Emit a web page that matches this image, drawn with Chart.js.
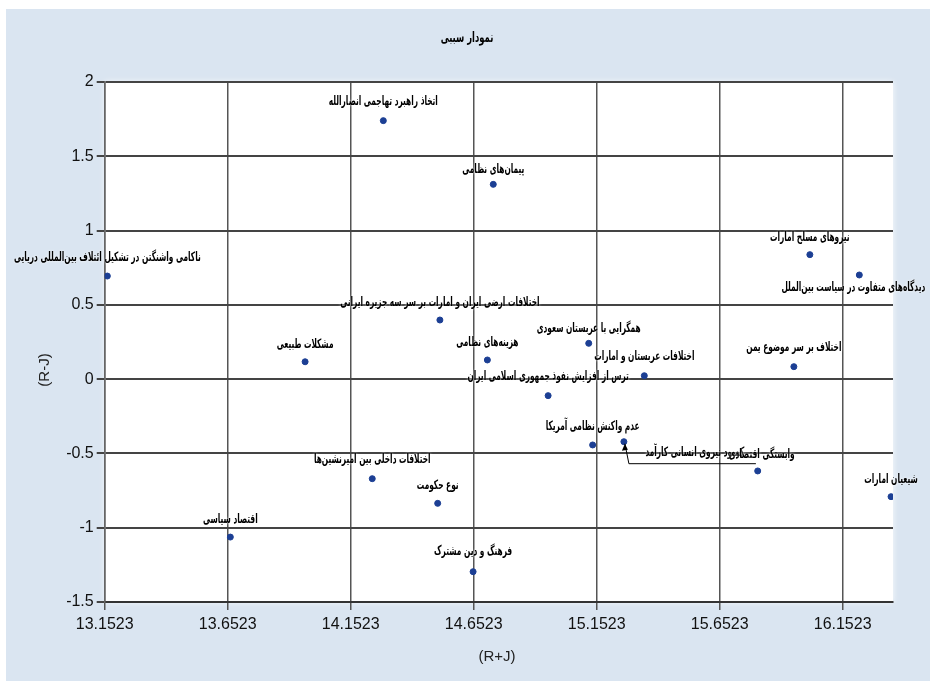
<!DOCTYPE html>
<html><head><meta charset="utf-8">
<script src="https://cdn.jsdelivr.net/npm/chart.js@4.4.0/dist/chart.umd.min.js"></script>
<style>
html,body{margin:0;padding:0;background:#ffffff;}
#wrap{position:absolute;left:6px;top:9px;width:924px;height:672px;}
canvas{display:block;}
</style></head>
<body>
<div id="wrap"><canvas id="c" width="924" height="672"></canvas></div>
<script>
const chartTitle = 'نمودار سببی';
const xAxisTitle = '(R+J)';
const yAxisTitle = '(R-J)';
const categories = [
  'اتخاذ راهبرد تهاجمی انصارالله',
  'پیمان‌های نظامی',
  'ناکامی واشنگتن در تشکیل ائتلاف بین‌المللی دریایی',
  'مشکلات طبیعی',
  'اختلافات ارضی ایران و امارات بر سر سه جزیره ایرانی',
  'هزینه‌های نظامی',
  'همگرایی با عربستان سعودی',
  'ترس از افزایش نفوذ جمهوری اسلامی ایران',
  'اختلافات عربستان و امارات',
  'نیروهای مسلح امارات',
  'دیدگاه‌های متفاوت در سیاست بین‌الملل',
  'اختلاف بر سر موضوع یمن',
  'عدم واکنش نظامی آمریکا',
  'کمبود نیروی انسانی کارآمد',
  'وابستگی اقتصادی',
  'شیعیان امارات',
  'اختلافات داخلی بین امیرنشین‌ها',
  'نوع حکومت',
  'اقتصاد سیاسی',
  'فرهنگ و دین مشترک'
];
const xValues = [14.285, 14.732, 13.163, 13.967, 14.515, 14.708, 15.120, 14.955, 15.346, 16.019,
                 16.220, 15.954, 15.136, 15.263, 15.807, 16.349, 14.240, 14.506, 13.663, 14.650];
const yValues = [1.740, 1.311, 0.694, 0.117, 0.398, 0.129, 0.241, -0.111, 0.023, 0.838,
                 0.701, 0.084, -0.443, -0.421, -0.618, -0.791, -0.670, -0.836, -1.063, -1.296];
const xTickValues = [13.1523, 13.6523, 14.1523, 14.6523, 15.1523, 15.6523, 16.1523];
const xTickLabels = ['13.1523', '13.6523', '14.1523', '14.6523', '15.1523', '15.6523', '16.1523'];
const yTickValues = [-1.5, -1, -0.5, 0, 0.5, 1, 1.5, 2];
const yTickLabels = ['-1.5', '-1', '-0.5', '0', '0.5', '1', '1.5', '2'];

// label placement relative to each point (pixels) - style only
const labelOffsets = [
  [0,-19],[0,-15],[0,-18],[0,-17],[0,-17],[0,-17],[0,-15],[0,-19],[0,-19],[0,-17],
  [-6,13],[0,-19],[0,-18],[71,11],[4,-16],[0,-17],[0,-19],[0,-18],[0,-17],[0,-20]
];
const leaderIndex = 13;

const points = xValues.map((x, i) => ({x: x, y: yValues[i]}));

const bgPlugin = {
  id: 'bg',
  beforeDraw(chart) {
    const {ctx, chartArea: a} = chart;
    ctx.save();
    ctx.fillStyle = '#dae5f1';
    ctx.fillRect(0, 0, chart.width, chart.height);
    ctx.shadowColor = 'rgba(255,255,255,0.9)';
    ctx.shadowBlur = 6;
    ctx.fillStyle = '#ffffff';
    ctx.fillRect(a.left, a.top, a.right - a.left, a.bottom - a.top);
    ctx.restore();
  }
};

const textPlugin = {
  id: 'texts',
  afterDatasetsDraw(chart) {
    const ctx = chart.ctx;
    const meta = chart.getDatasetMeta(0);
    ctx.save();
    ctx.fillStyle = '#000';
    ctx.textAlign = 'center';
    ctx.textBaseline = 'middle';
    ctx.direction = 'rtl';
    ctx.font = 'bold 13px "DejaVu Sans"';
    meta.data.forEach((el, i) => {
      const off = labelOffsets[i];
      const cx = el.x + off[0], cy = el.y + off[1];
      if (i === leaderIndex) {
        ctx.save();
        ctx.strokeStyle = '#000';
        ctx.lineWidth = 1;
        ctx.beginPath();
        ctx.moveTo(el.x + 1, el.y + 2);
        ctx.lineTo(el.x + 5, el.y + 22);
        ctx.lineTo(el.x + 132, el.y + 22);
        ctx.stroke();
        ctx.beginPath();
        ctx.moveTo(el.x + 1, el.y + 2);
        ctx.lineTo(el.x - 2, el.y + 9);
        ctx.lineTo(el.x + 4, el.y + 8);
        ctx.closePath();
        ctx.fill();
        ctx.restore();
      }
      ctx.save();
      ctx.translate(cx, cy);
      ctx.scale(0.57, 1);
      ctx.shadowColor = '#ffffff';
      ctx.shadowBlur = 3;
      ctx.fillText(categories[i], 0, 0);
      ctx.restore();
    });
    // titles
    ctx.direction = 'rtl';
    ctx.font = 'bold 14px "DejaVu Sans"';
    ctx.save();
    ctx.translate(461, 29);
    ctx.scale(0.6, 1);
    ctx.fillText(chartTitle, 0, 0);
    ctx.restore();
    ctx.direction = 'ltr';
    ctx.font = '15px "Liberation Sans Narrow", "Liberation Sans"';
    ctx.fillStyle = '#222';
    ctx.fillText(xAxisTitle, 491, 648);
    ctx.save();
    ctx.translate(39, 361);
    ctx.rotate(-Math.PI / 2);
    ctx.fillText(yAxisTitle, 0, 0);
    ctx.restore();
    ctx.restore();
  }
};

new Chart(document.getElementById('c'), {
  type: 'scatter',
  data: {
    datasets: [{
      data: points,
      backgroundColor: '#1c3f94',
      borderColor: '#1c3f94',
      pointRadius: 3,
      pointHoverRadius: 3
    }]
  },
  options: {
    responsive: false,
    animation: false,
    devicePixelRatio: 1,
    layout: {padding: {top: 73, right: 37, left: 0, bottom: 0}},
    plugins: {legend: {display: false}, tooltip: {enabled: false}, title: {display: false}},
    scales: {
      x: {
        type: 'linear',
        min: 13.1523,
        max: 16.357,
        afterBuildTicks(scale) { scale.ticks = xTickValues.map(v => ({value: v})); },
        afterFit(scale) { scale.height = 79; },
        ticks: {
          autoSkip: false,
          maxRotation: 0,
          padding: 5,
          color: '#111',
          font: {family: '"Liberation Sans Narrow", "Liberation Sans"', size: 16},
          callback(value) { const k = xTickValues.findIndex(v => Math.abs(v - value) < 1e-6); return k >= 0 ? xTickLabels[k] : ''; }
        },
        grid: {color: '#555', lineWidth: 1.5, tickLength: 8, drawTicks: true},
        border: {color: '#333', width: 2}
      },
      y: {
        type: 'linear',
        min: -1.5,
        max: 2,
        afterBuildTicks(scale) { scale.ticks = yTickValues.map(v => ({value: v})); },
        afterFit(scale) { scale.width = 98.7; },
        ticks: {
          autoSkip: false,
          padding: 3,
          color: '#111',
          font: {family: '"Liberation Sans Narrow", "Liberation Sans"', size: 16},
          callback(value) { const k = yTickValues.findIndex(v => Math.abs(v - value) < 1e-6); return k >= 0 ? yTickLabels[k] : ''; }
        },
        grid: {color: '#444', lineWidth: 2, tickLength: 8, drawTicks: true},
        border: {color: '#666', width: 1.5}
      }
    }
  },
  plugins: [bgPlugin, textPlugin]
});
</script>
</body></html>
